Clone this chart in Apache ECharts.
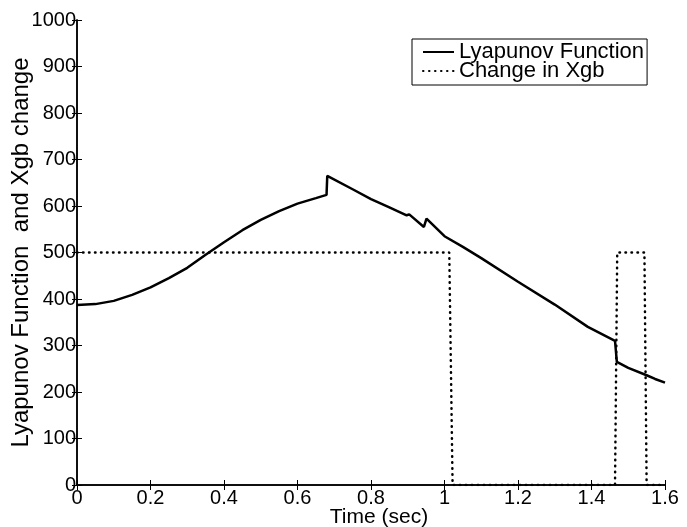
<!DOCTYPE html>
<html>
<head>
<meta charset="utf-8">
<script src="https://cdn.jsdelivr.net/npm/echarts@6/dist/echarts.min.js"></script>
<style>
  html, body { margin: 0; padding: 0; background: #fff; }
  #chart { width: 687px; height: 527px; }
</style>
</head>
<body>
<div id="chart"></div>
<script>
// Lyapunov function (solid)
const lyapTime = [0, 0.05, 0.1, 0.15, 0.2, 0.25, 0.3, 0.35, 0.4, 0.45, 0.5, 0.55, 0.6, 0.65, 0.679,
  0.681, 0.75, 0.8, 0.85, 0.897, 0.904, 0.944, 0.951, 1.0, 1.05, 1.1, 1.2, 1.3, 1.39, 1.464,
  1.469, 1.5, 1.55, 1.573, 1.6];
const lyapValue = [387, 389, 396, 409, 425, 445, 467, 495, 522, 548, 570, 589, 605, 617, 624,
  665, 636, 615, 597, 580, 582, 555, 573, 535, 512, 488, 437, 388, 340, 310,
  265, 252, 236, 228, 220];

// Change in Xgb (dotted)
const xgbTime = [0, 1.013, 1.022, 1.464, 1.47, 1.544, 1.55, 1.6];
const xgbValue = [500, 500, 0, 0, 500, 500, 0, 0];

const xTicks = { min: 0, max: 1.6, interval: 0.2 };
const yTicks = { min: 0, max: 1000, interval: 100 };

const zip = (xs, ys) => xs.map((x, i) => [x, ys[i]]);

const font = 'Liberation Sans, Arial, sans-serif';
const axisLine = { show: true, lineStyle: { color: '#000', width: 1.5 } };
const tick = { show: true, inside: true, length: 5, lineStyle: { color: '#000', width: 1 } };

const chart = echarts.init(document.getElementById('chart'));
chart.setOption({
  animation: false,
  backgroundColor: '#fff',
  grid: { left: 77, right: 22, top: 20, bottom: 42, containLabel: false, outerBoundsMode: 'none' },
  legend: {
    left: 412,
    top: 39,
    orient: 'vertical',
    itemGap: -3,
    itemWidth: 31,
    itemHeight: 18,
    padding: [2, 3, 3, 10],
    borderColor: '#000',
    borderWidth: 1,
    borderRadius: 0,
    itemStyle: { opacity: 0 },
    textStyle: { color: '#000', fontSize: 22, fontFamily: font },
    data: ['Lyapunov Function', 'Change in Xgb']
  },
  xAxis: [
    {
      type: 'value', ...xTicks,
      name: 'Time (sec)', nameLocation: 'middle', nameGap: 22, nameMoveOverlap: false,
      nameTextStyle: { color: '#000', fontSize: 21, fontFamily: font, padding: [0, 0, 0, 16] },
      axisLine, axisTick: tick,
      axisLabel: { color: '#000', fontSize: 20, fontFamily: font, margin: 3,
        formatter: v => String(Math.round(v * 10) / 10) },
      splitLine: { show: false }
    },
    {
      type: 'value', ...xTicks, position: 'top',
      axisLine, axisTick: tick, axisLabel: { show: false }, splitLine: { show: false }
    }
  ],
  yAxis: [
    {
      type: 'value', ...yTicks,
      name: 'Lyapunov Function  and Xgb change', nameLocation: 'middle', nameGap: 44,
      nameMoveOverlap: false,
      nameTextStyle: { color: '#000', fontSize: 24, fontFamily: font },
      axisLine, axisTick: tick,
      axisLabel: { color: '#000', fontSize: 20, fontFamily: font, margin: 1,
        formatter: v => String(v) },
      splitLine: { show: false }
    },
    {
      type: 'value', ...yTicks, position: 'right',
      axisLine, axisTick: tick, axisLabel: { show: false }, splitLine: { show: false }
    }
  ],
  series: [
    {
      name: 'Lyapunov Function',
      type: 'line',
      data: zip(lyapTime, lyapValue),
      symbol: 'none',
      lineStyle: { color: '#000', width: 2.5 },
      itemStyle: { color: '#000' },
      z: 3
    },
    {
      name: 'Change in Xgb',
      type: 'line',
      data: zip(xgbTime, xgbValue),
      symbol: 'none',
      lineStyle: { color: '#000', width: 2.5, type: [0.5, 5.5], cap: 'round' },
      itemStyle: { color: '#000' },
      z: 4
    }
  ]
});
</script>
</body>
</html>
